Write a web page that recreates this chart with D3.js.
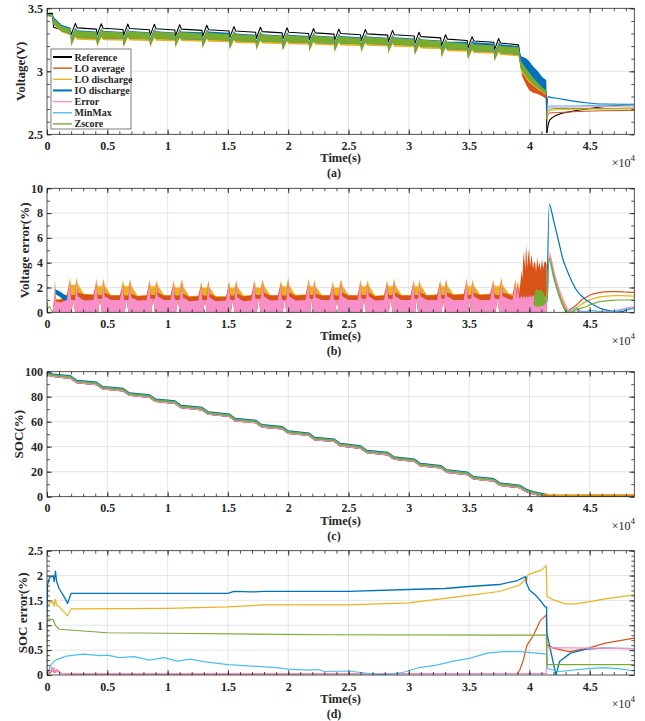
<!DOCTYPE html>
<html>
<head>
<meta charset="utf-8">
<script src="https://cdn.jsdelivr.net/npm/d3@7"></script>
<style>
  body { margin: 0; background: #fff; }
  svg { display: block; }
</style>
</head>
<body>
<svg width="645" height="721"></svg>
<script>
// series names and colours (MATLAB default order, pink for Error)
const seriesNames = ["Reference", "LO average", "LO discharge", "IO discharge", "Error", "MinMax", "Zscore"];
const seriesColors = ["#000000", "#D95319", "#EDB120", "#0072BD", "#F78FC8", "#4DBEEE", "#77AC30"];

// x axis (seconds), labels shown in units of 1e4
const xTicks = [0, 5000, 10000, 15000, 20000, 25000, 30000, 35000, 40000, 45000];
const xTickLabels = ["0", "0.5", "1", "1.5", "2", "2.5", "3", "3.5", "4", "4.5"];

// ---------- (a) voltage ----------
const voltTicks = [2.5, 3, 3.5];
const voltTickLabels = ["2.5", "3", "3.5"];
// sample times: start, one row per discharge pulse, final drop
const tA = [
  0, 450, 550, 1200,
  1950, 2000, 2350, 2500,
  4100, 4150, 4500, 4650,
  6300, 6350, 6700, 6850,
  8500, 8550, 8900, 9050,
  10600, 10650, 11000, 11150,
  12850, 12900, 13250, 13400,
  15100, 15150, 15500, 15650,
  17300, 17350, 17700, 17850,
  19500, 19550, 19900, 20050,
  21700, 21750, 22100, 22250,
  23800, 23850, 24200, 24350,
  26000, 26050, 26400, 26550,
  28250, 28300, 28650, 28800,
  30450, 30500, 30850, 31000,
  32650, 32700, 33050, 33200,
  34850, 34900, 35250, 35400,
  37050, 37100, 37450, 37600,
  39100, 39300, 39600, 39900, 40300, 40700, 41100, 41400, 41450
];
const refVolt = [
  3.46, 3.46, 3.35, 3.33,
  3.315, 3.29, 3.38, 3.345,
  3.335, 3.287, 3.377, 3.342,
  3.332, 3.285, 3.375, 3.34,
  3.33, 3.283, 3.373, 3.338,
  3.328, 3.28, 3.37, 3.335,
  3.325, 3.275, 3.365, 3.33,
  3.32, 3.265, 3.355, 3.32,
  3.31, 3.26, 3.35, 3.315,
  3.305, 3.255, 3.345, 3.31,
  3.30, 3.25, 3.34, 3.305,
  3.295, 3.245, 3.335, 3.30,
  3.29, 3.242, 3.332, 3.297,
  3.287, 3.235, 3.325, 3.29,
  3.28, 3.22, 3.31, 3.275,
  3.265, 3.20, 3.29, 3.255,
  3.245, 3.185, 3.275, 3.24,
  3.23, 3.17, 3.26, 3.225,
  3.21, 3.06, 3.0, 2.96, 2.92, 2.88, 2.85, 2.83, 2.51
];
// upper edge of the IO discharge noise band
const ioVoltHi = [
  3.455, 3.455, 3.43, 3.37,
  3.345, 3.27, 3.345, 3.325,
  3.315, 3.267, 3.342, 3.322,
  3.312, 3.265, 3.34, 3.32,
  3.31, 3.263, 3.338, 3.318,
  3.308, 3.26, 3.335, 3.315,
  3.31, 3.255, 3.33, 3.315,
  3.305, 3.245, 3.32, 3.30,
  3.29, 3.24, 3.315, 3.295,
  3.285, 3.235, 3.31, 3.29,
  3.28, 3.23, 3.305, 3.285,
  3.275, 3.225, 3.30, 3.28,
  3.27, 3.222, 3.297, 3.277,
  3.267, 3.215, 3.29, 3.27,
  3.26, 3.20, 3.275, 3.255,
  3.245, 3.18, 3.255, 3.235,
  3.235, 3.165, 3.245, 3.23,
  3.22, 3.15, 3.23, 3.215,
  3.20, 3.12, 3.11, 3.09, 3.04, 3.0, 2.95, 2.93, 2.75
];
// Zscore noise band, upper and lower edge
const zVoltHi = [
  3.45, 3.45, 3.42, 3.36,
  3.335, 3.26, 3.34, 3.32,
  3.31, 3.257, 3.337, 3.317,
  3.307, 3.255, 3.335, 3.315,
  3.305, 3.253, 3.333, 3.313,
  3.303, 3.25, 3.33, 3.31,
  3.30, 3.245, 3.325, 3.305,
  3.295, 3.235, 3.315, 3.295,
  3.285, 3.23, 3.31, 3.29,
  3.28, 3.225, 3.305, 3.285,
  3.275, 3.22, 3.30, 3.28,
  3.27, 3.215, 3.295, 3.275,
  3.265, 3.212, 3.292, 3.272,
  3.262, 3.205, 3.285, 3.265,
  3.255, 3.19, 3.27, 3.25,
  3.24, 3.17, 3.25, 3.23,
  3.22, 3.155, 3.235, 3.215,
  3.205, 3.14, 3.22, 3.20,
  3.19, 3.08, 3.04, 3.0, 2.95, 2.91, 2.87, 2.85, 2.70
];
const zVoltLo = [
  3.44, 3.435, 3.38, 3.32,
  3.295, 3.21, 3.285, 3.265,
  3.26, 3.207, 3.282, 3.262,
  3.257, 3.205, 3.28, 3.26,
  3.255, 3.203, 3.278, 3.258,
  3.253, 3.2, 3.275, 3.255,
  3.25, 3.195, 3.27, 3.25,
  3.245, 3.185, 3.26, 3.24,
  3.235, 3.18, 3.255, 3.235,
  3.23, 3.175, 3.25, 3.23,
  3.225, 3.17, 3.245, 3.225,
  3.22, 3.165, 3.24, 3.22,
  3.215, 3.162, 3.237, 3.217,
  3.212, 3.155, 3.23, 3.21,
  3.205, 3.14, 3.215, 3.195,
  3.19, 3.12, 3.195, 3.175,
  3.17, 3.105, 3.18, 3.16,
  3.155, 3.09, 3.165, 3.145,
  3.13, 3.02, 2.98, 2.94, 2.90, 2.87, 2.84, 2.82, 2.62
];
// lower edge of the LO discharge band
const ldVoltLo = [
  3.435, 3.43, 3.37, 3.31,
  3.285, 3.195, 3.27, 3.25,
  3.245, 3.192, 3.267, 3.247,
  3.242, 3.19, 3.265, 3.245,
  3.24, 3.188, 3.263, 3.243,
  3.238, 3.185, 3.26, 3.24,
  3.235, 3.18, 3.255, 3.235,
  3.23, 3.17, 3.245, 3.225,
  3.22, 3.165, 3.24, 3.22,
  3.215, 3.16, 3.235, 3.215,
  3.21, 3.155, 3.23, 3.21,
  3.205, 3.15, 3.225, 3.205,
  3.20, 3.147, 3.222, 3.202,
  3.197, 3.14, 3.215, 3.195,
  3.19, 3.125, 3.20, 3.18,
  3.175, 3.105, 3.18, 3.16,
  3.155, 3.09, 3.165, 3.145,
  3.14, 3.075, 3.15, 3.13,
  3.12, 3.0, 2.96, 2.92, 2.885, 2.855, 2.83, 2.81, 2.61
];
// LO average band during the final drop
const tADrop = [39200, 39400, 39600, 39800, 40000, 40300, 40700, 41100, 41400];
const avgVoltHi = [3.15, 3.03, 3.0, 2.96, 2.93, 2.9, 2.87, 2.85, 2.83];
const avgVoltLo = [3.10, 2.96, 2.92, 2.88, 2.85, 2.83, 2.82, 2.80, 2.78];
// relaxation after the end of discharge
const tATail = [41450, 41550, 41700, 42300, 43400, 44700, 46100, 48700];
const voltTail = [
  [2.51, 2.57, 2.614, 2.653, 2.68, 2.70, 2.72, 2.735],   // Reference
  [2.61, 2.66, 2.67, 2.672, 2.678, 2.683, 2.687, 2.69],  // LO average
  [2.62, 2.68, 2.69, 2.695, 2.697, 2.70, 2.70, 2.70],    // LO discharge
  [2.70, 2.80, 2.795, 2.786, 2.767, 2.75, 2.74, 2.738],  // IO discharge
  [2.64, 2.71, 2.715, 2.715, 2.715, 2.718, 2.72, 2.725], // Error
  [2.66, 2.72, 2.725, 2.725, 2.725, 2.728, 2.73, 2.733], // MinMax
  [2.63, 2.69, 2.70, 2.705, 2.705, 2.705, 2.705, 2.71]   // Zscore
];

// ---------- (b) voltage error ----------
const verrTicks = [0, 2, 4, 6, 8, 10];
const verrTickLabels = ["0", "2", "4", "6", "8", "10"];
const tB = [
  0, 450, 520, 580, 620, 660, 720, 1100,
  1650, 1900, 1980, 2030, 2180, 2330, 2460, 2540, 3060,
  3850, 4100, 4180, 4250, 4400, 4550, 4700, 4780, 5300,
  6050, 6300, 6380, 6450, 6600, 6750, 6900, 6980, 7500,
  8250, 8500, 8580, 8650, 8800, 8950, 9100, 9180, 9700,
  10250, 10500, 10580, 10700, 10850, 11000, 11200, 11280, 11800,
  12550, 12800, 12880, 12950, 13100, 13250, 13400, 13480, 14000,
  14850, 15100, 15180, 15250, 15400, 15550, 15700, 15780, 16300,
  16950, 17200, 17280, 17400, 17550, 17700, 17900, 17980, 18500,
  19150, 19400, 19480, 19550, 19700, 19850, 20000, 20080, 20600,
  21450, 21700, 21780, 21830, 21950, 22070, 22200, 22280, 22800,
  23450, 23700, 23780, 23900, 24050, 24200, 24400, 24480, 25000,
  25750, 26000, 26080, 26150, 26300, 26450, 26600, 26680, 27200,
  27950, 28200, 28280, 28350, 28500, 28650, 28800, 28880, 29400,
  30150, 30400, 30480, 30530, 30650, 30770, 30900, 30980, 31500,
  32350, 32600, 32680, 32730, 32850, 32970, 33100, 33180, 33700,
  34550, 34800, 34880, 34930, 35050, 35170, 35300, 35380, 35900,
  36750, 37000, 37080, 37200, 37350, 37500, 37700, 37780, 38300,
  38600, 38850, 38950, 39050, 39150, 39220, 39360, 39430, 39500, 39580, 39650,
  39700, 39770, 39830, 39900, 39980, 40050, 40120, 40200, 40300, 40400, 40500,
  40550, 40650, 40740, 40850, 40940, 41050, 41150, 41250, 41370, 41440
];
const errVerr = [
  0, 0, 0.4, 0.9, 0.5, 2.8, 0.9, 0.8,
  1.0, 2.6, 1.1, 1.0, 1.0, 1.0, 2.7, 1.3, 0.95,
  1.0, 2.5, 1.1, 1.1, 1.1, 1.1, 2.6, 1.3, 1.0,
  1.0, 2.3, 1.1, 1.0, 1.0, 1.0, 2.6, 1.2, 0.95,
  1.0, 2.5, 1.1, 1.1, 1.1, 1.1, 2.4, 1.3, 1.0,
  1.0, 2.4, 1.1, 1.0, 1.0, 1.0, 2.6, 1.2, 0.9,
  0.95, 2.3, 1.0, 1.0, 1.0, 1.0, 2.5, 1.2, 0.9,
  0.95, 2.4, 1.1, 1.0, 1.0, 1.0, 2.5, 1.2, 0.9,
  0.95, 2.5, 1.1, 1.1, 1.1, 1.1, 2.6, 1.3, 0.95,
  1.0, 2.4, 1.1, 1.0, 1.0, 1.0, 2.7, 1.3, 0.95,
  1.0, 2.6, 1.1, 1.1, 1.1, 1.1, 2.5, 1.2, 1.0,
  1.0, 2.3, 1.1, 1.0, 1.0, 1.0, 2.6, 1.3, 1.0,
  1.0, 2.5, 1.1, 1.1, 1.1, 1.1, 2.4, 1.3, 0.95,
  1.0, 2.4, 1.2, 1.1, 1.1, 1.1, 2.6, 1.3, 1.0,
  1.0, 2.5, 1.1, 1.1, 1.1, 1.1, 2.5, 1.3, 1.0,
  1.0, 2.4, 1.2, 1.1, 1.1, 1.1, 2.6, 1.3, 1.0,
  1.0, 2.6, 1.1, 1.1, 1.1, 1.1, 2.5, 1.3, 1.0,
  1.0, 2.5, 1.2, 1.1, 1.1, 1.1, 2.7, 1.3, 1.05,
  1.0, 2.5, 1.1, 2.3, 1.1, 1.2, 1.3, 1.1, 1.4, 1.2, 1.3,
  1.1, 1.4, 1.2, 1.3, 1.2, 1.4, 1.3, 1.2, 1.4, 1.3, 1.2,
  1.3, 1.4, 1.2, 1.3, 1.3, 1.2, 1.4, 1.3, 1.2, 1.1
];
const ldVerr = [
  0, 0, 0.45, 1.0, 0.7, 2.6, 1.1, 1.1,
  1.45, 2.8, 2.3, 2.2, 2.2, 2.2, 2.8, 2.3, 1.5,
  1.45, 2.7, 2.2, 2.1, 2.1, 2.1, 2.75, 2.2, 1.4,
  1.4, 2.6, 2.2, 2.1, 2.1, 2.1, 2.7, 2.2, 1.35,
  1.4, 2.65, 2.2, 2.1, 2.1, 2.1, 2.6, 2.2, 1.4,
  1.4, 2.6, 2.1, 2.0, 2.0, 2.0, 2.7, 2.1, 1.3,
  1.35, 2.5, 2.0, 2.0, 2.0, 2.0, 2.6, 2.0, 1.3,
  1.3, 2.55, 2.0, 2.0, 2.0, 2.0, 2.6, 2.1, 1.35,
  1.4, 2.65, 2.1, 2.0, 2.0, 2.0, 2.7, 2.2, 1.4,
  1.4, 2.6, 2.2, 2.1, 2.1, 2.1, 2.8, 2.2, 1.4,
  1.45, 2.75, 2.2, 2.1, 2.1, 2.1, 2.65, 2.1, 1.4,
  1.4, 2.5, 2.1, 2.0, 2.0, 2.0, 2.7, 2.2, 1.4,
  1.4, 2.65, 2.2, 2.1, 2.1, 2.1, 2.6, 2.2, 1.35,
  1.4, 2.6, 2.2, 2.1, 2.1, 2.1, 2.75, 2.2, 1.4,
  1.4, 2.65, 2.2, 2.1, 2.1, 2.1, 2.65, 2.2, 1.4,
  1.45, 2.6, 2.2, 2.1, 2.1, 2.1, 2.75, 2.2, 1.45,
  1.5, 2.75, 2.2, 2.1, 2.1, 2.1, 2.65, 2.2, 1.45,
  1.5, 2.65, 2.2, 2.1, 2.1, 2.1, 2.8, 2.2, 1.5,
  1.5, 2.7, 1.9, 2.6, 1.8, 2.2, 2.0, 1.9, 2.0, 1.9, 2.0,
  1.9, 1.9, 1.8, 1.9, 1.8, 1.8, 1.8, 1.7, 1.8, 1.7, 1.7,
  1.8, 1.7, 1.7, 1.8, 1.7, 1.7, 1.8, 1.7, 1.7, 1.6
];
const avgVerr = [
  0, 0, 0.4, 0.95, 0.65, 2.5, 1.0, 1.0,
  1.4, 2.4, 1.5, 1.4, 1.4, 1.4, 2.4, 1.6, 1.45,
  1.4, 2.35, 1.5, 1.4, 1.4, 1.4, 2.4, 1.6, 1.35,
  1.35, 2.2, 1.5, 1.35, 1.35, 1.35, 2.4, 1.5, 1.3,
  1.35, 2.35, 1.5, 1.4, 1.4, 1.4, 2.3, 1.6, 1.35,
  1.35, 2.3, 1.45, 1.35, 1.35, 1.35, 2.4, 1.5, 1.25,
  1.3, 2.2, 1.45, 1.35, 1.35, 1.35, 2.35, 1.5, 1.25,
  1.25, 2.3, 1.45, 1.35, 1.35, 1.35, 2.35, 1.5, 1.3,
  1.35, 2.35, 1.5, 1.4, 1.4, 1.4, 2.4, 1.6, 1.35,
  1.35, 2.3, 1.5, 1.35, 1.35, 1.35, 2.5, 1.6, 1.35,
  1.4, 2.45, 1.5, 1.4, 1.4, 1.4, 2.35, 1.5, 1.35,
  1.35, 2.2, 1.5, 1.35, 1.35, 1.35, 2.4, 1.6, 1.35,
  1.35, 2.35, 1.5, 1.4, 1.4, 1.4, 2.3, 1.6, 1.3,
  1.35, 2.3, 1.55, 1.4, 1.4, 1.4, 2.45, 1.6, 1.35,
  1.35, 2.35, 1.5, 1.4, 1.4, 1.4, 2.35, 1.6, 1.35,
  1.4, 2.3, 1.55, 1.4, 1.4, 1.4, 2.45, 1.6, 1.4,
  1.45, 2.45, 1.5, 1.4, 1.4, 1.4, 2.35, 1.6, 1.4,
  1.45, 2.35, 1.55, 1.4, 1.4, 1.4, 2.5, 1.6, 1.45,
  1.3, 2.4, 1.6, 2.3, 1.5, 2.07, 3.4, 2.6, 4.9, 3.8, 5.2,
  3.3, 5.56, 3.6, 4.5, 5.16, 3.7, 4.2, 4.6, 3.5, 4.1, 3.9,
  3.2, 4.45, 3.6, 4.05, 3.4, 4.3, 3.5, 4.1, 4.05, 3.8
];
// bottom of the noisy error band (the small white notches at each pulse)
const verrFloor = [
  0, 0, 0, 0, 0, 0, 0, 0,
  0, 0, 0, 0, 1.0, 0, 0, 0, 0,
  0, 0, 0, 0, 1.1, 0, 0, 0, 0,
  0, 0, 0, 0, 1.0, 0, 0, 0, 0,
  0, 0, 0, 0, 1.1, 0, 0, 0, 0,
  0, 0, 0, 0, 1.0, 0, 0, 0, 0,
  0, 0, 0, 0, 1.0, 0, 0, 0, 0,
  0, 0, 0, 0, 1.0, 0, 0, 0, 0,
  0, 0, 0, 0, 1.1, 0, 0, 0, 0,
  0, 0, 0, 0, 1.0, 0, 0, 0, 0,
  0, 0, 0, 0, 1.1, 0, 0, 0, 0,
  0, 0, 0, 0, 1.0, 0, 0, 0, 0,
  0, 0, 0, 0, 1.1, 0, 0, 0, 0,
  0, 0, 0, 0, 1.1, 0, 0, 0, 0,
  0, 0, 0, 0, 1.1, 0, 0, 0, 0,
  0, 0, 0, 0, 1.1, 0, 0, 0, 0,
  0, 0, 0, 0, 1.1, 0, 0, 0, 0,
  0, 0, 0, 0, 1.1, 0, 0, 0, 0,
  0, 0, 0, 0, 0, 0, 0, 0, 0, 0, 0,
  0, 0, 0, 0, 0, 0, 0, 0, 0, 0, 0,
  0, 0, 0, 0, 0, 0, 0, 0, 0, 0
];
// IO discharge band at the start
const tBlueB = [680, 800, 1000, 1200, 1400, 1600, 1700];
const ioVerrHi = [1.85, 1.8, 1.72, 1.6, 1.45, 1.35, 1.3];
const ioVerrLo = [1.5, 1.4, 1.3, 1.15, 1.0, 0.95, 0.9];
// Zscore band near the end of discharge
const tGreenB = [40350, 40450, 40600, 40800, 41000, 41200, 41350];
const zVerrHi = [0.9, 1.6, 1.9, 1.7, 1.85, 1.5, 1.1];
const zVerrLo = [0.6, 0.5, 0.45, 0.45, 0.5, 0.55, 0.7];
const tGreenStart = [0, 30, 80, 200, 350, 480];
const zVerrStart = [0, 0.8, 0.3, 0.5, 0.2, 0];
// after discharge
const tBTail = [41480, 41650, 42000, 42400, 42800, 43100, 43400, 43900, 44400, 44700, 45000, 45600, 46200, 46700, 47200, 47700, 48100, 48700];
const verrTail = [
  null,                                                                                                   // Reference
  [1.5, 4.3, 3.1, 1.8, 0.75, 0.0, 0.25, 0.59, 1.05, 1.2, 1.38, 1.55, 1.64, 1.66, 1.66, 1.65, 1.63, 1.6],    // LO average
  [1.5, 4.5, 3.3, 1.9, 0.85, 0.2, 0.0, 0.35, 0.7, 0.86, 1.0, 1.18, 1.28, 1.32, 1.34, 1.34, 1.32, 1.31],     // LO discharge
  [1.8, 8.7, 7.44, 5.83, 4.22, 3.45, 2.74, 1.8, 1.25, 0.99, 0.8, 0.45, 0.22, 0.13, 0.02, 0.05, 0.2, 0.35], // IO discharge
  [1.0, 4.8, 3.4, 2.07, 1.0, 0.4, 0.05, 0.0, 0.1, 0.05, 0.0, 0.0, 0.03, 0.08, 0.15, 0.25, 0.35, 0.45],     // Error
  [0.8, 4.2, 2.8, 1.5, 0.45, 0.0, 0.15, 0.35, 0.0, 0.05, 0.15, 0.1, 0.02, 0.05, 0.1, 0.18, 0.25, 0.3],     // MinMax
  [1.0, 4.4, 3.0, 1.6, 0.5, 0.0, 0.0, 0.2, 0.38, 0.45, 0.6, 0.8, 0.9, 0.95, 0.99, 0.99, 0.99, 0.99]        // Zscore
];

// ---------- (c) SOC ----------
const socTicks = [0, 20, 40, 60, 80, 100];
const socTickLabels = ["0", "20", "40", "60", "80", "100"];
const tSoc = [0, 500, 1950, 2450, 4100, 4600, 6300, 6800, 8500, 9000, 10600, 11100, 12850, 13350,
  15100, 15600, 17300, 17800, 19500, 20000, 21700, 22200, 23800, 24300, 26000, 26500, 28250, 28750,
  30450, 30950, 32650, 33150, 34850, 35350, 37050, 37550, 39200, 39700, 40300, 41000, 41500, 42000, 48700];
const socRef = [97.35, 96.35, 94.85, 91.35, 89.85, 86.35, 84.85, 81.35, 79.65, 76.35, 74.85, 71.35, 69.65, 66.15,
  64.35, 60.85, 59.35, 55.85, 54.35, 50.85, 49.15, 45.65, 44.35, 40.85, 38.85, 35.35, 33.65, 30.15,
  28.35, 24.85, 23.15, 19.65, 17.85, 14.35, 12.65, 9.15, 7.35, 4.35, 2.35, 0.85, 0, 0, 0];
const socIO = [99, 98, 96.5, 93, 91.5, 88, 86.5, 83, 81.3, 78, 76.5, 73, 71.3, 67.8,
  66, 62.5, 61, 57.5, 56, 52.5, 50.8, 47.3, 46, 42.5, 40.5, 37, 35.3, 31.8,
  30, 26.5, 24.8, 21.3, 19.5, 16, 14.3, 10.8, 9, 6, 4, 2.5, 1.2, 0.6, 0.55];
const socZ = [98.2, 97.2, 95.7, 92.2, 90.7, 87.2, 85.7, 82.2, 80.5, 77.2, 75.7, 72.2, 70.5, 67,
  65.2, 61.7, 60.2, 56.7, 55.2, 51.7, 50, 46.5, 45.2, 41.7, 39.7, 36.2, 34.5, 31,
  29.2, 25.7, 24, 20.5, 18.7, 15.2, 13.5, 10, 8.2, 5.2, 3.2, 1.7, 0.4, 0.2, 0.2];
const tSocTail = [41300, 41600, 43000, 45000, 48700];
const socLDTail = [2.5, 1.5, 1.4, 1.5, 1.6];
const socAvgTail = [1.6, 0.6, 0.5, 0.6, 0.75];

// ---------- (d) SOC error, [time, value] ----------
const serrTicks = [0, 0.5, 1, 1.5, 2, 2.5];
const serrTickLabels = ["0", "0.5", "1", "1.5", "2", "2.5"];
const serrAvg = [[0, 0], [300, 0.05], [500, 0.12], [600, 0.05], [800, 0.1], [1200, 0.03], [2000, 0.02], [39000, 0.03],
  [39200, 0.1], [39500, 0.3], [39800, 0.6], [40300, 0.78], [40900, 1.09], [41400, 1.21], [41460, 0.6], [42000, 0.54],
  [43300, 0.47], [44900, 0.54], [46300, 0.64], [48700, 0.74]];
const serrLD = [[0, 1.41], [500, 1.48], [600, 1.38], [700, 1.52], [800, 1.41], [1000, 1.38], [1700, 1.19], [2000, 1.33],
  [10000, 1.34], [15000, 1.37], [18000, 1.41], [25000, 1.41], [30000, 1.45], [35000, 1.6], [37500, 1.68], [39200, 1.81],
  [39500, 1.88], [39700, 1.95], [39750, 1.85], [39850, 2.0], [40000, 2.03], [41000, 2.11], [41400, 2.2], [41460, 1.58],
  [42000, 1.51], [43000, 1.43], [43800, 1.43], [44900, 1.47], [46300, 1.53], [48700, 1.61]];
const serrIO = [[0, 1.15], [40, 1.81], [200, 1.95], [500, 2.0], [600, 1.88], [700, 2.09], [800, 1.88], [1000, 1.74],
  [1500, 1.54], [1700, 1.44], [2000, 1.64], [15000, 1.64], [15500, 1.68], [17000, 1.67], [18000, 1.68], [25000, 1.68],
  [30000, 1.72], [33000, 1.74], [35000, 1.78], [37500, 1.82], [39000, 1.9], [39500, 1.96], [39700, 1.98], [39750, 1.85],
  [40000, 1.71], [40500, 1.61], [41000, 1.47], [41300, 1.37], [41430, 1.37], [41450, 0.84], [42200, 0], [42500, 0.27],
  [43400, 0.44], [44700, 0.52], [46100, 0.54], [48700, 0.53]];
const serrErr = [[0, 0], [300, 0.1], [400, 0.17], [500, 0.08], [600, 0.15], [700, 0.05], [900, 0.1], [1200, 0.03],
  [41400, 0.03], [41470, 0.55], [48700, 0.53]];
const serrMM = [[0, 0], [300, 0.2], [700, 0.3], [1600, 0.38], [3000, 0.42], [4400, 0.39], [5000, 0.4], [6000, 0.35],
  [7200, 0.37], [8500, 0.3], [9700, 0.35], [10800, 0.28], [11900, 0.32], [13000, 0.27], [15000, 0.21], [17000, 0.18],
  [19000, 0.15], [20000, 0.12], [21600, 0.1], [22500, 0.11], [23000, 0.07], [25000, 0.08], [26700, 0.03], [28000, 0.01],
  [29500, 0.05], [30900, 0.15], [32300, 0.2], [33700, 0.28], [35100, 0.34], [36500, 0.44], [37800, 0.47], [39200, 0.47],
  [40600, 0.44], [41450, 0.42], [41500, 0.13], [42500, 0.07], [44900, 0.13], [46300, 0.15], [47700, 0.12], [48700, 0.08]];
const serrZ = [[0, 0], [20, 1.13], [500, 1.11], [700, 1.0], [1000, 0.92], [5000, 0.85], [10000, 0.84], [23000, 0.81],
  [41400, 0.8], [41460, 0.21], [48700, 0.21]];

// ---------------- drawing ----------------
const FONT = "'Liberation Serif', 'Times New Roman', serif";
const AXIS = "#262626";
const svg = d3.select("svg");
const x = d3.scaleLinear().domain([0, 48700]).range([47, 634.3]);
const xMinor = d3.range(0, 48701, 1000);

const panels = [
  { top: 8.3, bottom: 134.3, domain: [2.5, 3.5], ticks: voltTicks, labels: voltTickLabels, minor: d3.range(2.5, 3.51, 0.1), ylabel: "Voltage(V)", labelX: 20, tag: "(a)" },
  { top: 188.3, bottom: 312.3, domain: [0, 10], ticks: verrTicks, labels: verrTickLabels, minor: d3.range(0, 10.1, 1), ylabel: "Voltage error(%)", labelX: 24, tag: "(b)" },
  { top: 371.7, bottom: 496.7, domain: [0, 100], ticks: socTicks, labels: socTickLabels, minor: d3.range(0, 101, 10), ylabel: "SOC(%)", labelX: 18, tag: "(c)" },
  { top: 550.7, bottom: 675, domain: [0, 2.5], ticks: serrTicks, labels: serrTickLabels, minor: d3.range(0, 2.51, 0.1), ylabel: "SOC error(%)", labelX: 22, tag: "(d)" }
];

function checkLen(name, ts, vs) {
  if (ts.length !== vs.length) throw new Error(name + ": " + ts.length + " times vs " + vs.length + " values");
}

function setup(p, i) {
  p.y = d3.scaleLinear().domain(p.domain).range([p.bottom, p.top]);
  const g = svg.append("g");
  // grid
  g.selectAll(".gx").data(xTicks.slice(1)).join("line")
    .attr("x1", d => x(d)).attr("x2", d => x(d))
    .attr("y1", p.top).attr("y2", p.bottom)
    .attr("stroke", "#dedede").attr("stroke-width", 0.8);
  g.selectAll(".gy").data(p.ticks.slice(1, -1)).join("line")
    .attr("x1", x.range()[0]).attr("x2", x.range()[1])
    .attr("y1", d => p.y(d)).attr("y2", d => p.y(d))
    .attr("stroke", "#dedede").attr("stroke-width", 0.8);
  svg.append("clipPath").attr("id", "clip" + i).append("rect")
    .attr("x", x.range()[0]).attr("y", p.top)
    .attr("width", x.range()[1] - x.range()[0]).attr("height", p.bottom - p.top);
  p.plot = svg.append("g").attr("clip-path", `url(#clip${i})`);
}

function drawLine(p, ts, vs, color, width, curve) {
  const line = d3.line().x(i => x(ts[i])).y(i => p.y(vs[i])).curve(curve || d3.curveLinear);
  p.plot.append("path").attr("d", line(d3.range(ts.length)))
    .attr("fill", "none").attr("stroke", color).attr("stroke-width", width)
    .attr("stroke-linejoin", "round");
}

function drawBand(p, ts, lo, hi, color) {
  const area = d3.area().x(i => x(ts[i]))
    .y0(i => p.y(lo[i]))
    .y1(i => p.y(hi[i]));
  p.plot.append("path").attr("d", area(d3.range(ts.length))).attr("fill", color);
}

function drawPairs(p, pairs, color, width) {
  const line = d3.line().x(d => x(d[0])).y(d => p.y(d[1]));
  p.plot.append("path").attr("d", line(pairs))
    .attr("fill", "none").attr("stroke", color).attr("stroke-width", width)
    .attr("stroke-linejoin", "round");
}

function drawAxes(p) {
  const g = svg.append("g");
  g.append("g").attr("transform", `translate(0,${p.bottom})`)
    .call(d3.axisBottom(x).tickValues(xMinor).tickSize(-3).tickFormat(""));
  g.append("g").attr("transform", `translate(0,${p.bottom})`)
    .call(d3.axisBottom(x).tickValues(xTicks).tickSize(-5).tickPadding(7).tickFormat((d, i) => xTickLabels[i]));
  g.append("g").attr("transform", `translate(0,${p.top})`)
    .call(d3.axisTop(x).tickValues(xMinor).tickSize(-3).tickFormat(""));
  g.append("g").attr("transform", `translate(0,${p.top})`)
    .call(d3.axisTop(x).tickValues(xTicks).tickSize(-5).tickFormat(""));
  g.append("g").attr("transform", `translate(${x.range()[0]},0)`)
    .call(d3.axisLeft(p.y).tickValues(p.minor).tickSize(-3).tickFormat(""));
  g.append("g").attr("transform", `translate(${x.range()[0]},0)`)
    .call(d3.axisLeft(p.y).tickValues(p.ticks).tickSize(-5).tickPadding(4).tickFormat((d, i) => p.labels[i]));
  g.append("g").attr("transform", `translate(${x.range()[1]},0)`)
    .call(d3.axisRight(p.y).tickValues(p.minor).tickSize(-3).tickFormat(""));
  g.append("g").attr("transform", `translate(${x.range()[1]},0)`)
    .call(d3.axisRight(p.y).tickValues(p.ticks).tickSize(-5).tickFormat(""));
  g.selectAll(".domain").remove();
  g.selectAll(".tick line").attr("stroke", AXIS).attr("stroke-width", 0.8);
  g.selectAll(".tick text").attr("font-family", FONT).attr("font-size", 12)
    .attr("font-weight", "bold").attr("fill", AXIS);

  g.append("rect").attr("x", x.range()[0]).attr("y", p.top)
    .attr("width", x.range()[1] - x.range()[0]).attr("height", p.bottom - p.top)
    .attr("fill", "none").attr("stroke", AXIS).attr("stroke-width", 0.8);

  const cx = (x.range()[0] + x.range()[1]) / 2;
  g.append("text").attr("x", cx).attr("y", p.bottom + 28).attr("text-anchor", "middle")
    .attr("font-family", FONT).attr("font-size", 12.5).attr("font-weight", "bold").attr("fill", AXIS)
    .text("Time(s)");
  g.append("text").attr("x", 334).attr("y", p.bottom + 43).attr("text-anchor", "middle")
    .attr("font-family", FONT).attr("font-size", 12).attr("font-weight", "bold").attr("fill", AXIS)
    .text(p.tag);
  const mult = g.append("text").attr("x", 635).attr("y", p.bottom + 33).attr("text-anchor", "end")
    .attr("font-family", FONT).attr("font-size", 12).attr("fill", AXIS);
  mult.append("tspan").text("\u00d710");
  mult.append("tspan").attr("dy", -6).attr("font-size", 9).text("4");
  g.append("text")
    .attr("transform", `translate(${p.labelX},${(p.top + p.bottom) / 2}) rotate(-90)`)
    .attr("dy", "0.35em").attr("text-anchor", "middle")
    .attr("font-family", FONT).attr("font-size", 13).attr("font-weight", "bold").attr("fill", AXIS)
    .text(p.ylabel);
}

panels.forEach(setup);
const [pa, pb, pc, pd] = panels;
const C = seriesColors;

// (a)
[refVolt, ioVoltHi, zVoltHi, zVoltLo, ldVoltLo].forEach((a, i) => checkLen("a" + i, tA, a));
drawLine(pa, tA, refVolt, C[0], 1.1);
drawBand(pa, tADrop, avgVoltLo, avgVoltHi, C[1]);
drawBand(pa, tA, ldVoltLo, zVoltHi, C[2]);
drawBand(pa, tA, zVoltLo, ioVoltHi, C[3]);
drawBand(pa, tA, zVoltLo, zVoltHi, C[6]);
voltTail.forEach((vs, i) => drawLine(pa, tATail, vs, C[i], i === 0 || i === 3 ? 1.1 : 1, d3.curveMonotoneX));

// (b)
[errVerr, ldVerr, avgVerr, verrFloor].forEach((a, i) => checkLen("b" + i, tB, a));
drawBand(pb, tB, verrFloor, ldVerr, C[2]);
drawBand(pb, tB, verrFloor, avgVerr, C[1]);
drawBand(pb, tBlueB, ioVerrLo, ioVerrHi, C[3]);
drawBand(pb, tB, verrFloor, errVerr, C[4]);
drawLine(pb, tGreenStart, zVerrStart, C[6], 1);
drawBand(pb, tGreenB, zVerrLo, zVerrHi, C[6]);
verrTail.forEach((vs, i) => { if (vs) drawLine(pb, tBTail, vs, C[i], 1.2, d3.curveMonotoneX); });

// (c)
[socRef, socIO, socZ].forEach((a, i) => checkLen("c" + i, tSoc, a));
drawLine(pc, tSoc, socRef, C[0], 1.5);
drawLine(pc, tSoc, socRef, C[1], 1.5);
drawLine(pc, tSoc, socIO, C[2], 1.5);
drawLine(pc, tSoc, socIO, C[3], 1.6);
drawLine(pc, tSoc, socRef, C[4], 1.5);
drawLine(pc, tSoc, socZ, C[5], 1.5);
drawLine(pc, tSoc, socZ, C[6], 1.5);
drawLine(pc, tSocTail, socAvgTail, C[1], 1.5);
drawLine(pc, tSocTail, socLDTail, C[2], 1.5);

// (d)
drawPairs(pd, serrAvg, C[1], 1.2);
drawPairs(pd, serrLD, C[2], 1.2);
drawPairs(pd, serrIO, C[3], 1.3);
drawPairs(pd, serrErr, C[4], 1.2);
drawPairs(pd, serrMM, C[5], 1.2);
drawPairs(pd, serrZ, C[6], 1.2);

panels.forEach(drawAxes);

// legend in (a)
const leg = svg.append("g");
leg.append("rect").attr("x", 51).attr("y", 49).attr("width", 80).attr("height", 80)
  .attr("fill", "#fff").attr("stroke", AXIS).attr("stroke-width", 0.6);
seriesNames.forEach((name, i) => {
  const yy = 57 + i * 11.15;
  leg.append("line").attr("x1", 53).attr("x2", 72).attr("y1", yy).attr("y2", yy)
    .attr("stroke", seriesColors[i]).attr("stroke-width", i === 0 || i === 3 ? 2 : 1.4);
  leg.append("text").attr("x", 74.5).attr("y", yy).attr("dy", "0.35em")
    .attr("font-family", FONT).attr("font-size", 10).attr("font-weight", "bold").attr("fill", AXIS)
    .text(name);
});
</script>
</body>
</html>
